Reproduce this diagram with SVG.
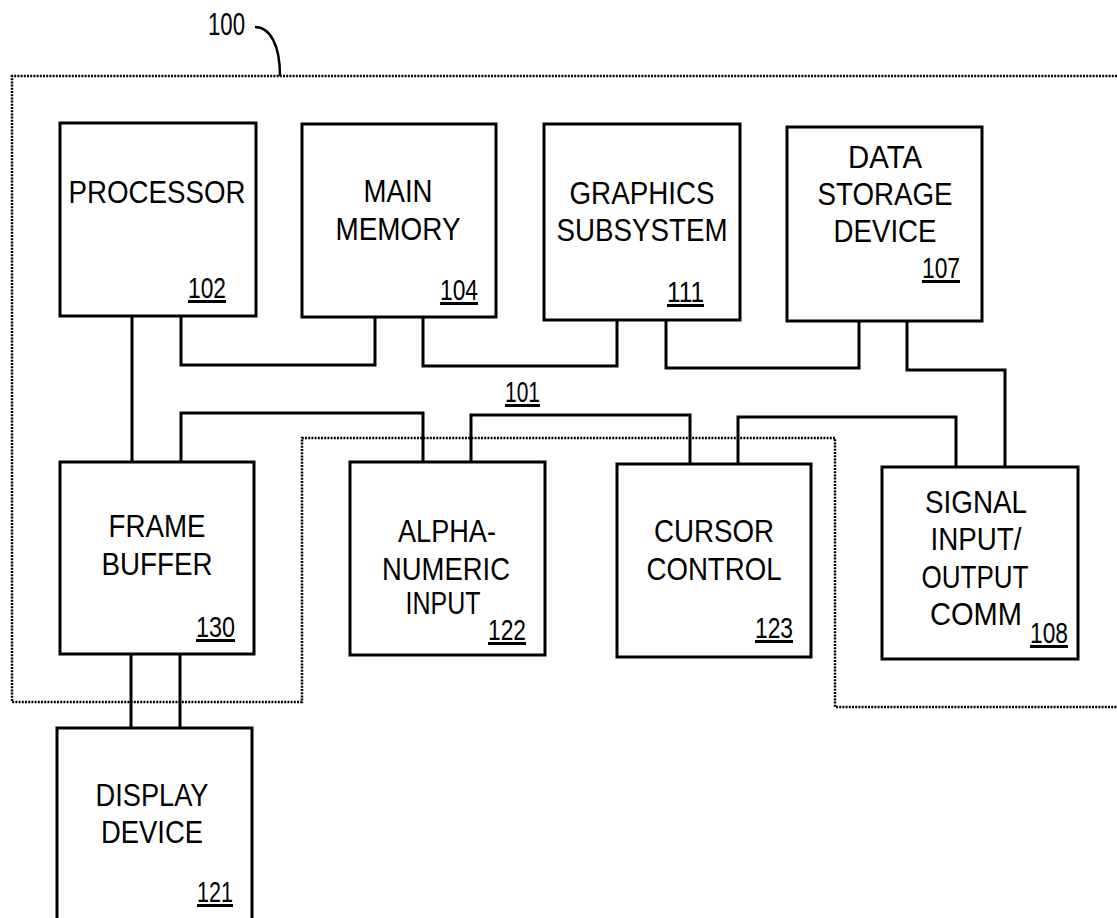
<svg xmlns="http://www.w3.org/2000/svg" width="1117" height="918" viewBox="0 0 1117 918">
<style>
.box{fill:#fff;stroke:#000;stroke-width:3}
.t{font-family:"Liberation Sans",Arial,sans-serif;font-size:32px;fill:#000;text-anchor:middle}
.n{font-family:"Liberation Sans",Arial,sans-serif;font-size:30px;fill:#000;text-decoration:underline}
.c{fill:none;stroke:#000;stroke-width:3}
.dot{fill:none;stroke:#000;stroke-width:2.5;stroke-dasharray:2 1.2}
</style>
<rect width="1117" height="918" fill="#fff"/>
<g id="border-100">
<path class="dot" d="M1117,76 H12 V702 H302 V438 H835 V707 H1117"/>
<path d="M255,27 C270,27 280,45 280,76" fill="none" stroke="#000" stroke-width="2.5"/>
<text x="208" y="35" class="t" style="text-anchor:start" textLength="37" lengthAdjust="spacingAndGlyphs">100</text>
</g>
<g id="connectors">
<path class="c" d="M132,316 V462"/>
<path class="c" d="M181,316 V365 H375 V317"/>
<path class="c" d="M423,317 V366 H617 V320"/>
<path class="c" d="M666,320 V368 H859 V321"/>
<path class="c" d="M907,321 V370 H1005 V467"/>
<path class="c" d="M181,462 V413 H423 V462"/>
<path class="c" d="M471,462 V415 H690 V464"/>
<path class="c" d="M738,464 V417 H956 V467"/>
<path class="c" d="M131,654 V728"/>
<path class="c" d="M180,654 V728"/>
<text x="505" y="402" class="n" textLength="35" lengthAdjust="spacingAndGlyphs">101</text>
</g>
<g id="processor">
<rect class="box" x="60" y="123" width="196" height="193"/>
<text x="157" y="203" class="t" textLength="177" lengthAdjust="spacingAndGlyphs">PROCESSOR</text>
<text x="188" y="298" class="n" textLength="38" lengthAdjust="spacingAndGlyphs">102</text>
</g>
<g id="main-memory">
<rect class="box" x="302" y="124" width="194" height="193"/>
<text x="398" y="202" class="t" textLength="69" lengthAdjust="spacingAndGlyphs">MAIN</text>
<text x="398" y="240" class="t" textLength="125" lengthAdjust="spacingAndGlyphs">MEMORY</text>
<text x="440" y="300" class="n" textLength="38" lengthAdjust="spacingAndGlyphs">104</text>
</g>
<g id="graphics-subsystem">
<rect class="box" x="544" y="124" width="196" height="196"/>
<text x="642" y="204" class="t" textLength="145" lengthAdjust="spacingAndGlyphs">GRAPHICS</text>
<text x="642" y="241" class="t" textLength="171" lengthAdjust="spacingAndGlyphs">SUBSYSTEM</text>
<text x="667" y="302" class="n" textLength="37" lengthAdjust="spacingAndGlyphs">111</text>
</g>
<g id="data-storage-device">
<rect class="box" x="787" y="127" width="195" height="194"/>
<text x="885" y="168" class="t" textLength="74" lengthAdjust="spacingAndGlyphs">DATA</text>
<text x="885" y="205" class="t" textLength="135" lengthAdjust="spacingAndGlyphs">STORAGE</text>
<text x="885" y="242" class="t" textLength="103" lengthAdjust="spacingAndGlyphs">DEVICE</text>
<text x="922" y="278" class="n" textLength="38" lengthAdjust="spacingAndGlyphs">107</text>
</g>
<g id="frame-buffer">
<rect class="box" x="60" y="462" width="194" height="192"/>
<text x="157" y="537" class="t" textLength="97" lengthAdjust="spacingAndGlyphs">FRAME</text>
<text x="157" y="575" class="t" textLength="111" lengthAdjust="spacingAndGlyphs">BUFFER</text>
<text x="196" y="637" class="n" textLength="39" lengthAdjust="spacingAndGlyphs">130</text>
</g>
<g id="alpha-numeric-input">
<rect class="box" x="350" y="462" width="195" height="193"/>
<text x="447" y="542" class="t" textLength="98" lengthAdjust="spacingAndGlyphs">ALPHA-</text>
<text x="446" y="580" class="t" textLength="128" lengthAdjust="spacingAndGlyphs">NUMERIC</text>
<text x="443" y="614" class="t" textLength="75" lengthAdjust="spacingAndGlyphs">INPUT</text>
<text x="488" y="640" class="n" textLength="38" lengthAdjust="spacingAndGlyphs">122</text>
</g>
<g id="cursor-control">
<rect class="box" x="617" y="464" width="194" height="193"/>
<text x="714" y="542" class="t" textLength="120" lengthAdjust="spacingAndGlyphs">CURSOR</text>
<text x="714" y="580" class="t" textLength="135" lengthAdjust="spacingAndGlyphs">CONTROL</text>
<text x="755" y="638" class="n" textLength="38" lengthAdjust="spacingAndGlyphs">123</text>
</g>
<g id="signal-io-comm">
<rect class="box" x="882" y="467" width="196" height="192"/>
<text x="976" y="513" class="t" textLength="102" lengthAdjust="spacingAndGlyphs">SIGNAL</text>
<text x="976" y="550" class="t" textLength="91" lengthAdjust="spacingAndGlyphs">INPUT/</text>
<text x="975" y="588" class="t" textLength="107" lengthAdjust="spacingAndGlyphs">OUTPUT</text>
<text x="976" y="625" class="t" textLength="92" lengthAdjust="spacingAndGlyphs">COMM</text>
<text x="1030" y="643" class="n" textLength="38" lengthAdjust="spacingAndGlyphs">108</text>
</g>
<g id="display-device">
<rect class="box" x="57" y="728" width="195" height="210"/>
<text x="152" y="806" class="t" textLength="113" lengthAdjust="spacingAndGlyphs">DISPLAY</text>
<text x="152" y="843" class="t" textLength="102" lengthAdjust="spacingAndGlyphs">DEVICE</text>
<text x="197" y="902" class="n" textLength="36" lengthAdjust="spacingAndGlyphs">121</text>
</g>
</svg>
